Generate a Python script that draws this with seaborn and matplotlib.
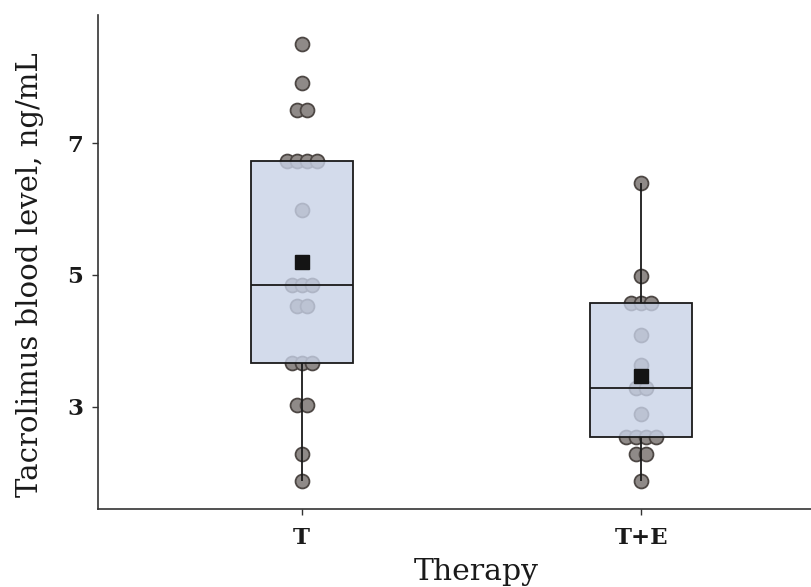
import numpy as np
import pandas as pd
import matplotlib
matplotlib.use("Agg")
import matplotlib.pyplot as plt
import seaborn as sns

# ---- data ----
therapy_groups = ["T", "T+E"]
t_levels = [8.51, 7.92, 7.50, 7.50, 6.73, 6.73, 6.73, 6.73, 5.99,
            4.85, 4.85, 4.85, 4.53, 4.53, 3.67, 3.67, 3.67,
            3.03, 3.03, 2.28, 1.87]
te_levels = [6.40, 4.99, 4.58, 4.58, 4.58, 4.09, 3.63, 3.29, 3.29,
             2.89, 2.54, 2.54, 2.54, 2.54, 2.28, 2.28, 1.87]
y_ticks = [3, 5, 7]
x_label = "Therapy"
y_label = "Tacrolimus blood level, ng/mL"

sns.set_theme(style="ticks")
plt.rcParams["font.family"] = ["DejaVu Serif"]

df = pd.DataFrame({
    "Therapy": ["T"] * len(t_levels) + ["T+E"] * len(te_levels),
    "level": t_levels + te_levels,
})

# dot-plot style layout: equal values stacked symmetrically around the category
code = df["Therapy"].map({g: i for i, g in enumerate(therapy_groups)}).to_numpy(float)
step = 0.0294
offs = np.zeros(len(df))
for _, idx in df.groupby(["Therapy", "level"]).groups.items():
    idx = list(idx)
    k = len(idx)
    offs[idx] = (np.arange(k) - (k - 1) / 2) * step
df["xpos"] = code + offs

fig = plt.figure(figsize=(8.11, 5.87), dpi=100)
fig.patch.set_facecolor("white")
W, H = 811, 587
ax = fig.add_axes([98 / W, 1 - 509.3 / H, (845 - 98) / W, (509.3 - 15) / H])

sns.scatterplot(data=df, x="xpos", y="level", s=100, color="#8f8a88",
                edgecolor="#4d4744", linewidth=1.3, zorder=1, legend=False, ax=ax)

box_whis = {"T": (0, 75), "T+E": (0, 100)}
for g in therapy_groups:
    sns.boxplot(data=df[df["Therapy"] == g], x="Therapy", y="level",
                order=therapy_groups, whis=box_whis[g], width=0.3,
                showcaps=False, showfliers=False, showmeans=True,
                linewidth=1.3, linecolor="#1a1a1a",
                boxprops=dict(facecolor=(200 / 255, 210 / 255, 231 / 255, 0.8),
                              edgecolor="#1a1a1a"),
                meanprops=dict(marker="s", markerfacecolor="#141414",
                               markeredgecolor="#141414", markersize=9.5),
                ax=ax)

ax.set_xlim(-0.6, 1.6)
ax.set_ylim(1.442, 8.948)
ax.set_yticks(y_ticks)
ax.set_xticks(range(len(therapy_groups)))
ax.set_xticklabels(therapy_groups)
for lab in ax.get_xticklabels() + ax.get_yticklabels():
    lab.set_fontweight("bold")
    lab.set_fontsize(16.5)
    lab.set_color("#1a1a1a")
ax.tick_params(axis="y", length=4.5, width=1.0, color="#333333", pad=6)
ax.tick_params(axis="x", length=4.5, width=1.0, color="#333333", pad=8)
ax.set_xlabel(x_label, fontsize=21.5, color="#1a1a1a", labelpad=7)
ax.set_ylabel(y_label, fontsize=21, color="#1a1a1a", labelpad=17)
ax.xaxis.label.set_x(0.507)
ax.yaxis.label.set_y(0.474)
sns.despine(ax=ax)
for s in ["left", "bottom"]:
    ax.spines[s].set_color("#333333")
    ax.spines[s].set_linewidth(1.2)
ax.set_facecolor("white")

fig.savefig("out.png", dpi=100)
